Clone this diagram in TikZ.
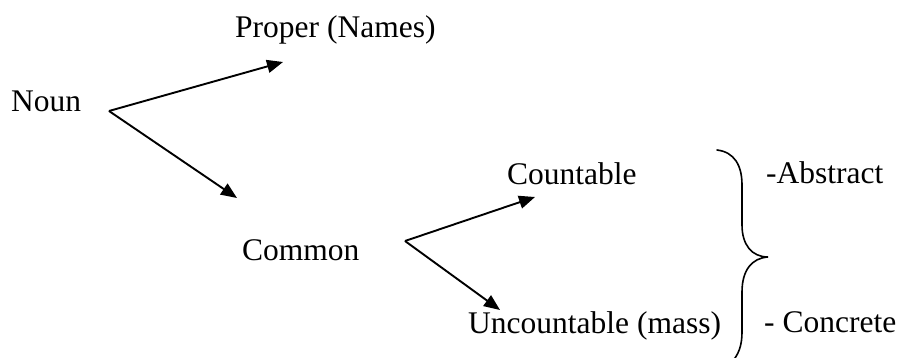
\documentclass[tikz,border=0pt]{standalone}
\usepackage{fontspec}
\setmainfont{Liberation Serif}
\usetikzlibrary{arrows.meta}
\begin{document}
\begin{tikzpicture}[x=1pt,y=-1pt,
  word/.style={anchor=base west,inner sep=0pt,font=\fontsize{31.5}{38}\selectfont},
  branch/.style={line width=1.9pt,-{Triangle[length=16pt,width=13pt]}},
  bracestroke/.style={line width=1.6pt,line cap=round}]
\useasboundingbox (0,0) rectangle (901,358);

% words
\node[word] (noun)   at (11,112)  {Noun};
\node[word] (proper) at (235,38)  {Proper (Names)};
\node[word] (common) at (242,260) {Common};
\node[word] (count)  at (507,184) {Countable};
\node[word] (uncount) at (468,333) {Uncountable (mass)};
\node[word] (abstr)  at (766,183) {-Abstract};
\node[word] (concr)  at (764,332) {- Concrete};

% branching points and arrow tips
\coordinate (v1) at (109,111);
\coordinate (tipP) at (283,62);
\coordinate (tipC) at (237,198);
\coordinate (v2) at (405,241);
\coordinate (tipK) at (535,197);
\coordinate (tipU) at (500,310);

\draw[branch] (v1) -- (tipP);
\draw[branch] (v1) -- (tipC);
\draw[branch] (v2) -- (tipK);
\draw[branch] (v2) -- (tipU);

% curly brace joining the two kinds
\draw[bracestroke] (717,150) .. controls (734,152) and (742,165) .. (742,185)
  -- (742,225) .. controls (742,245) and (752,257) .. (768,257)
  .. controls (752,258) and (742,270) .. (742,292)
  -- (742,332) .. controls (742,345) and (739,355) .. (730,364);
\end{tikzpicture}
\end{document}
